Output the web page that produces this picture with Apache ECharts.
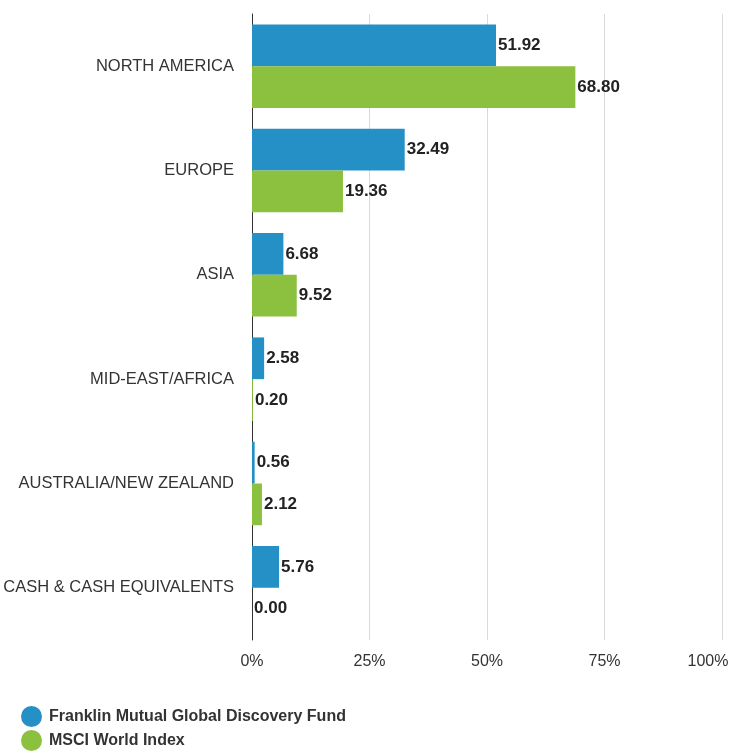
<!DOCTYPE html>
<html><head><meta charset="utf-8">
<script src="https://cdn.jsdelivr.net/npm/echarts@6/dist/echarts.min.js"></script>
<style>html,body{margin:0;padding:0;background:#fff}#c{width:729px;height:753px}</style>
</head><body><div id="c"></div>
<script>
const categories = ["NORTH AMERICA","EUROPE","ASIA","MID-EAST/AFRICA","AUSTRALIA/NEW ZEALAND","CASH & CASH EQUIVALENTS"];
const fundName = "Franklin Mutual Global Discovery Fund";
const indexName = "MSCI World Index";
const fundValues = [51.92,32.49,6.68,2.58,0.56,5.76];
const indexValues = [68.80,19.36,9.52,0.20,2.12,0.00];
const xTicks = [0,25,50,75,100];

const FN = '"Liberation Sans", Arial, sans-serif';
const chart = echarts.init(document.getElementById('c'));
const lbl = {show:true, position:'right', distance:2, fontFamily:FN, fontWeight:'bold', fontSize:17, color:'#222', formatter:p=>p.value.toFixed(2)};
chart.setOption({
  animation:false,
  textStyle:{fontFamily:FN},
  grid:{left:252, right:7, top:14, bottom:113, containLabel:false, outerBoundsMode:'none'},
  xAxis:{type:'value', min:0, max:100, interval:25,
    axisLabel:{fontSize:16, color:'#333', margin:14,
      formatter:v=> v===xTicks[xTicks.length-1] ? '{m|'+v+'%}' : v+'%',
      rich:{m:{fontSize:16, color:'#333', fontFamily:FN, padding:[0,28,0,0]}}},
    axisLine:{show:false}, axisTick:{show:false},
    splitLine:{lineStyle:{color:'#d9d9d9', width:1}}},
  yAxis:{type:'category', data:categories, inverse:true,
    axisLabel:{fontSize:16.5, color:'#333', margin:18},
    axisLine:{show:true, lineStyle:{color:'#333', width:1}}, axisTick:{show:false}},
  legend:{orient:'vertical', left:21, top:706, padding:0, itemGap:3, itemWidth:21, itemHeight:21, icon:'circle',
    textStyle:{fontSize:16, fontWeight:'bold', color:'#333', padding:[0,0,0,2]},
    data:[fundName, indexName]},
  series:[
    {name:fundName, type:'bar', data:fundValues, barGap:'0%', barCategoryGap:'20%', itemStyle:{color:'#2490C6'}, label:lbl},
    {name:indexName, type:'bar', data:indexValues, itemStyle:{color:'#8BC13F'}, label:lbl}
  ]
});
</script></body></html>
